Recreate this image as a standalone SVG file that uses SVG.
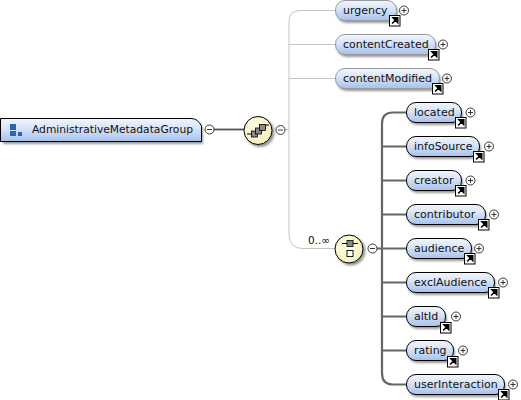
<svg xmlns="http://www.w3.org/2000/svg" width="521" height="400" viewBox="0 0 521 400">
<defs>
<linearGradient id="g" x1="0" y1="0" x2="0" y2="1"><stop offset="0" stop-color="#f2f6fd"/><stop offset="0.45" stop-color="#d6e3f8"/><stop offset="1" stop-color="#a6c1ec"/></linearGradient>
<radialGradient id="y" cx="0.4" cy="0.4" r="0.7"><stop offset="0" stop-color="#fffde6"/><stop offset="1" stop-color="#f4efbb"/></radialGradient>
<filter id="b" x="-20%" y="-20%" width="140%" height="140%"><feGaussianBlur stdDeviation="0.8"/></filter>
<g id="exp"><circle r="4.500" fill="#fff" stroke="#222" stroke-width="0.9"/><path d="M-2.500 0H2.500M0 -2.500V2.500" stroke="#222" stroke-width="0.9"/></g>
<g id="col"><circle r="4.500" fill="#fff" stroke="#222" stroke-width="0.9"/><path d="M-2.500 0H2.500" stroke="#222" stroke-width="0.9"/></g>
<g id="lnk"><rect x="0" y="0" width="10.500" height="10.500" fill="#fff" stroke="#000" stroke-width="1"/><path d="M2.600 8L5.800 4.800M3.600 2.400H8.200V7Z" stroke="#000" stroke-width="1.600" fill="#000"/></g>
</defs>
<style>
.p{fill:url(#g);stroke:#000;stroke-width:1}
.pg{fill:url(#g);stroke:#9a9a9a;stroke-width:1}
.s{fill:#777;opacity:.75;filter:url(#b)}
text{font-family:"DejaVu Sans",sans-serif;font-size:11px;fill:#111}
.o{fill:url(#y);stroke:#000;stroke-width:1}
.m{fill:#8a8a8a;stroke:#000;stroke-width:.8}
</style>
<g id="connectors" fill="none">
<path d="M214 129.500H245" stroke="#555" stroke-width="1.800"/>
<path d="M285 129.500H289" stroke="#bbb" stroke-width="1"/>
<path d="M335 10.500H300Q289 10.500 289 21.500V234Q289 248.500 303 248.500H336M289 44.500H335M289 78.500H335" stroke="#c4c4c4" stroke-width="1"/>
<path d="M377 248.500H382M406 112.500H393Q382 112.500 382 123.500V373Q382 384.500 393 384.500H406M382 146.500H406M382 180.500H406M382 214.500H406M382 248.500H406M382 282.500H406M382 316.500H406M382 350.500H406" stroke="#666" stroke-width="2.200"/>
</g>
<g id="root"><path d="M3 121H193Q199 121 203 128V144H3Z" class="s"/><path d="M0.500 118.500H191Q198 118.500 201.500 126V141.500H0.500Z" class="p"/><path d="M10 124h6v6h-6zM10 131h6v5h-6zM18 132h4v4h-4z" fill="#2a66ad"/><text x="32" y="132.500" style="font-size:10.700px">AdministrativeMetadataGroup</text><use href="#col" transform="translate(209.500,129.500)"/></g>
<g id="sequence"><circle cx="260" cy="132.500" r="14.500" class="s"/><circle cx="258" cy="130.500" r="14" class="o"/><path d="M247 134H252M265 125H269" stroke="#000" stroke-width="1"/><rect x="251.500" y="131" width="6" height="6" class="m"/><rect x="255.500" y="128" width="6" height="6" class="m"/><rect x="259.500" y="124.500" width="6" height="6" class="m"/><use href="#col" transform="translate(280.500,130)"/></g>
<g id="choice"><circle cx="351" cy="251" r="14.500" class="s"/><circle cx="349" cy="249" r="14" class="o"/><path d="M342 243.500H358" stroke="#000" stroke-width="1"/><rect x="347" y="240.500" width="6" height="6" class="m"/><rect x="347" y="250.500" width="6" height="6" fill="#fff" stroke="#000" stroke-width=".9"/><text x="308" y="244" style="font-size:10.500px">0..∞</text><use href="#col" transform="translate(372.500,248.500)"/></g>
<g id="urgency"><rect x="337" y="3" width="61" height="20" rx="9.500" class="s"/><rect x="335.500" y="0.500" width="61" height="20" rx="9.500" class="pg"/><text x="343" y="14">urgency</text><use href="#lnk" transform="translate(389.500,15.500)"/><use href="#exp" transform="translate(404,10.500)"/></g>
<g id="contentCreated"><rect x="337" y="37" width="100" height="20" rx="9.500" class="s"/><rect x="335.500" y="34.500" width="100" height="20" rx="9.500" class="pg"/><text x="343" y="48">contentCreated</text><use href="#lnk" transform="translate(428.500,49.500)"/><use href="#exp" transform="translate(443,44.500)"/></g>
<g id="contentModified"><rect x="337" y="71" width="104" height="20" rx="9.500" class="s"/><rect x="335.500" y="68.500" width="104" height="20" rx="9.500" class="pg"/><text x="343" y="82">contentModified</text><use href="#lnk" transform="translate(432.500,83.500)"/><use href="#exp" transform="translate(447,78.500)"/></g>
<g id="located"><rect x="408" y="105" width="55" height="20" rx="9.500" class="s"/><rect x="406.500" y="102.500" width="55" height="20" rx="9.500" class="p"/><text x="414" y="116">located</text><use href="#lnk" transform="translate(455.500,117.500)"/><use href="#exp" transform="translate(470.500,112.500)"/></g>
<g id="infoSource"><rect x="408" y="139" width="73" height="20" rx="9.500" class="s"/><rect x="406.500" y="136.500" width="73" height="20" rx="9.500" class="p"/><text x="414" y="150">infoSource</text><use href="#lnk" transform="translate(473.500,151.500)"/><use href="#exp" transform="translate(489,146.500)"/></g>
<g id="creator"><rect x="408" y="173" width="55" height="20" rx="9.500" class="s"/><rect x="406.500" y="170.500" width="55" height="20" rx="9.500" class="p"/><text x="414" y="184">creator</text><use href="#lnk" transform="translate(455.500,185.500)"/><use href="#exp" transform="translate(470.500,180.500)"/></g>
<g id="contributor"><rect x="408" y="207" width="79" height="20" rx="9.500" class="s"/><rect x="406.500" y="204.500" width="79" height="20" rx="9.500" class="p"/><text x="414" y="218">contributor</text><use href="#lnk" transform="translate(478.500,219.500)"/><use href="#exp" transform="translate(494,214.500)"/></g>
<g id="audience"><rect x="408" y="241" width="65" height="20" rx="9.500" class="s"/><rect x="406.500" y="238.500" width="65" height="20" rx="9.500" class="p"/><text x="414" y="252">audience</text><use href="#lnk" transform="translate(464.500,253.500)"/><use href="#exp" transform="translate(479,248.500)"/></g>
<g id="exclAudience"><rect x="408" y="275" width="88" height="20" rx="9.500" class="s"/><rect x="406.500" y="272.500" width="88" height="20" rx="9.500" class="p"/><text x="414" y="286">exclAudience</text><use href="#lnk" transform="translate(488.500,287.500)"/><use href="#exp" transform="translate(503,282.500)"/></g>
<g id="altId"><rect x="408" y="309" width="39" height="20" rx="9.500" class="s"/><rect x="406.500" y="306.500" width="39" height="20" rx="9.500" class="p"/><text x="414" y="320">altId</text><use href="#lnk" transform="translate(440.500,322.500)"/><use href="#exp" transform="translate(456,316.500)"/></g>
<g id="rating"><rect x="408" y="343" width="47" height="20" rx="9.500" class="s"/><rect x="406.500" y="340.500" width="47" height="20" rx="9.500" class="p"/><text x="414" y="354">rating</text><use href="#lnk" transform="translate(447.500,356.500)"/><use href="#exp" transform="translate(463,350.500)"/></g>
<g id="userInteraction"><rect x="408" y="377" width="98" height="20" rx="9.500" class="s"/><rect x="406.500" y="374.500" width="98" height="20" rx="9.500" class="p"/><text x="414" y="388">userInteraction</text><use href="#lnk" transform="translate(498.500,389.500)"/><use href="#exp" transform="translate(513,384.500)"/></g>
</svg>
